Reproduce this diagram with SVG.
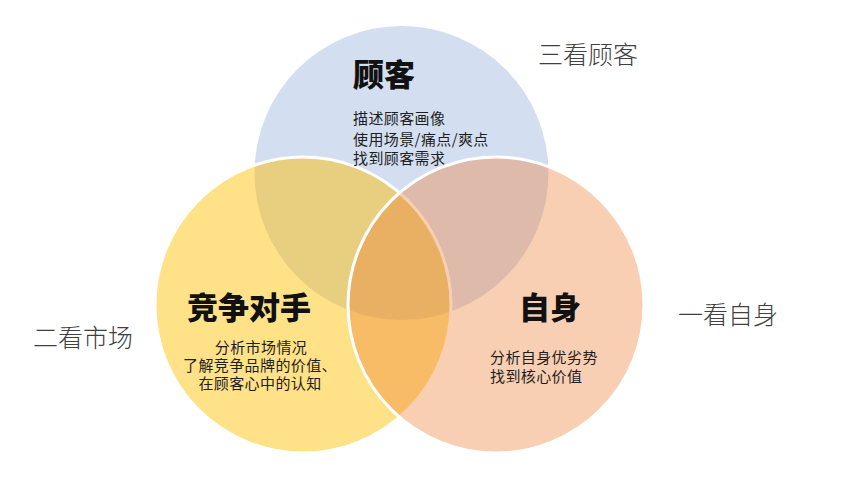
<svg xmlns="http://www.w3.org/2000/svg" width="854" height="493" viewBox="0 0 854 493">
<style>
.c{stroke:#ffffff;stroke-width:3}
.t{font-family:"Noto Sans CJK SC","Noto Sans",sans-serif;font-weight:900;font-size:31px;fill:#111111}
.s{font-family:"Noto Sans CJK SC","Noto Sans",sans-serif;font-size:15px;fill:#1e1e1e;letter-spacing:0.4px}
.l{font-family:"Noto Sans CJK SC","Noto Sans",sans-serif;font-weight:300;font-size:25px;fill:#404040}
</style>
<rect width="854" height="493" fill="#ffffff"/>
<g id="customer">
<circle cx="401.5" cy="173" r="147" fill="#4472C4" fill-opacity="0.23"/>
</g>
<g id="competitor">
<circle class="c" cx="303" cy="305" r="148" fill="#FFC000" fill-opacity="0.47"/>
</g>
<g id="self">
<circle class="c" cx="496" cy="305" r="148" fill="#ED7D31" fill-opacity="0.37"/>
</g>
<g id="customer-text">
<text class="t" x="353" y="86">顾客</text>
<text class="s" x="353" y="124">描述顾客画像</text>
<text class="s" x="353" y="145">使用场景/痛点/爽点</text>
<text class="s" x="353" y="164">找到顾客需求</text>
</g>
<g id="competitor-text">
<text class="t" x="187" y="319">竞争对手</text>
<text class="s" x="261" y="353" text-anchor="middle">分析市场情况</text>
<text class="s" x="260" y="371" text-anchor="middle">了解竞争品牌的价值、</text>
<text class="s" x="260" y="389" text-anchor="middle">在顾客心中的认知</text>
</g>
<g id="self-text">
<text class="t" x="519" y="319">自身</text>
<text class="s" x="490" y="363">分析自身优劣势</text>
<text class="s" x="490" y="382">找到核心价值</text>
</g>
<g id="labels">
<text class="l" x="538" y="64">三看顾客</text>
<text class="l" x="33" y="347">二看市场</text>
<text class="l" x="678" y="324">一看自身</text>
</g>
</svg>
